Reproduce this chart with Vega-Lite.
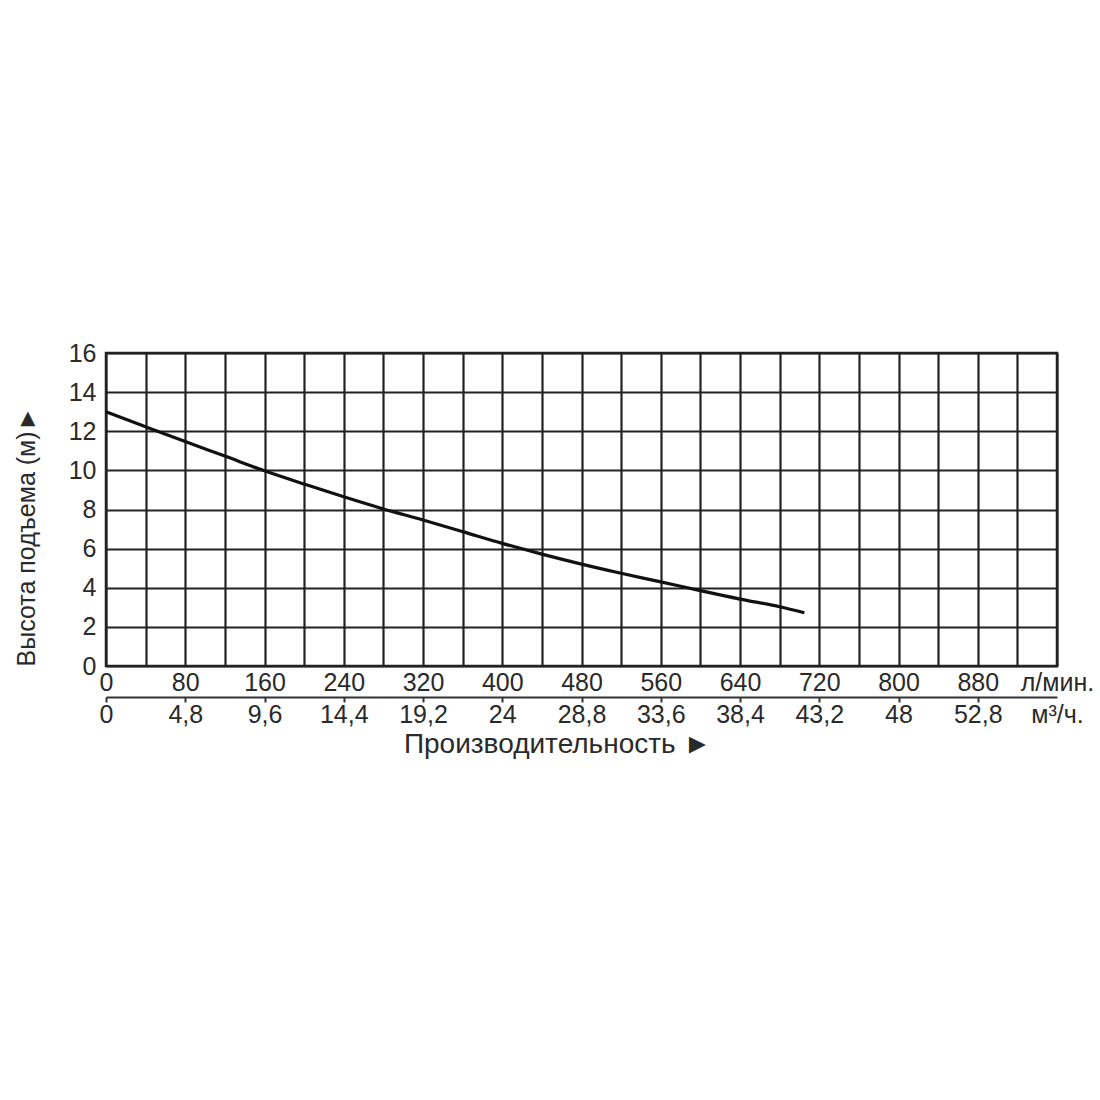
{
  "$schema": "https://vega.github.io/schema/vega-lite/v6.json",
  "width": 951,
  "height": 313,
  "padding": {"left": 14, "top": 341, "right": 5, "bottom": 5},
  "background": "white",
  "config": {
    "view": {"stroke": "#222", "strokeWidth": 2.5},
    "font": "Liberation Sans"
  },
  "data": {
    "values": [
      {"q": 0, "h": 13.0},
      {"q": 40, "h": 12.23},
      {"q": 80, "h": 11.47},
      {"q": 120, "h": 10.73},
      {"q": 160, "h": 9.98},
      {"q": 200, "h": 9.3},
      {"q": 240, "h": 8.65},
      {"q": 280, "h": 8.03},
      {"q": 320, "h": 7.46},
      {"q": 360, "h": 6.87},
      {"q": 400, "h": 6.27},
      {"q": 440, "h": 5.72},
      {"q": 480, "h": 5.21},
      {"q": 520, "h": 4.74},
      {"q": 560, "h": 4.3},
      {"q": 600, "h": 3.85},
      {"q": 640, "h": 3.42},
      {"q": 680, "h": 3.03},
      {"q": 705, "h": 2.72}
    ]
  },
  "encoding": {
    "y": {
      "field": "h", "type": "quantitative",
      "scale": {"domain": [0, 16], "nice": false},
      "axis": {
        "values": [0, 2, 4, 6, 8, 10, 12, 14, 16],
        "grid": true, "gridColor": "#222", "gridWidth": 2.2, "gridOpacity": 1,
        "ticks": false, "domain": false,
        "labelFontSize": 25, "labelColor": "#2a2a2a", "labelPadding": 10,
        "labelFlush": false, "labelOverlap": false,
        "title": "Высота подъема (м)►",
        "titleFontSize": 25, "titleFontWeight": "normal", "titleColor": "#2a2a2a",
        "titleAnchor": "start",
        "titlePadding": 29
      }
    }
  },
  "resolve": {"axis": {"x": "independent"}},
  "layer": [
    {
      "mark": {"type": "line", "color": "#111", "strokeWidth": 3.2, "interpolate": "monotone"},
      "encoding": {
        "x": {
          "field": "q", "type": "quantitative",
          "scale": {"domain": [0, 960], "nice": false, "zero": true},
          "axis": {
            "orient": "bottom",
            "values": [0, 40, 80, 120, 160, 200, 240, 280, 320, 360, 400, 440, 480, 520, 560, 600, 640, 680, 720, 760, 800, 840, 880, 920, 960],
            "labelExpr": "datum.value == 960 ? 'л/мин.' : (datum.value % 80 == 0 ? datum.label : '')",
            "grid": true, "gridColor": "#222", "gridWidth": 2.2, "gridOpacity": 1,
            "ticks": false, "domain": false,
            "labelFontSize": 25, "labelColor": "#2a2a2a", "labelPadding": 4,
            "labelFlush": false, "labelOverlap": false,
            "title": null
          }
        }
      }
    },
    {
      "mark": {"type": "point", "opacity": 0},
      "encoding": {
        "x": {
          "field": "q", "type": "quantitative",
          "axis": {
            "orient": "bottom",
            "offset": 31,
            "values": [0, 80, 160, 240, 320, 400, 480, 560, 640, 720, 800, 880, 960],
            "labelExpr": "datum.value == 960 ? 'м³/ч.' : replace(format(datum.value * 0.06, '.1~f'), '.', ',')",
            "grid": false,
            "domain": true, "domainColor": "#333", "domainWidth": 2,
            "ticks": true, "tickColor": "#333", "tickWidth": 2, "tickSize": 5,
            "tickOpacity": {"condition": {"test": "datum.value == 960", "value": 0}, "value": 1},
            "labelFontSize": 25, "labelColor": "#2a2a2a", "labelPadding": 0,
            "labelFlush": false, "labelOverlap": false,
            "title": "Производительность ►",
            "titleFontSize": 28, "titleFontWeight": "normal", "titleColor": "#2a2a2a",
            "titleX": 451,
            "titlePadding": 3
          }
        }
      }
    }
  ]
}
